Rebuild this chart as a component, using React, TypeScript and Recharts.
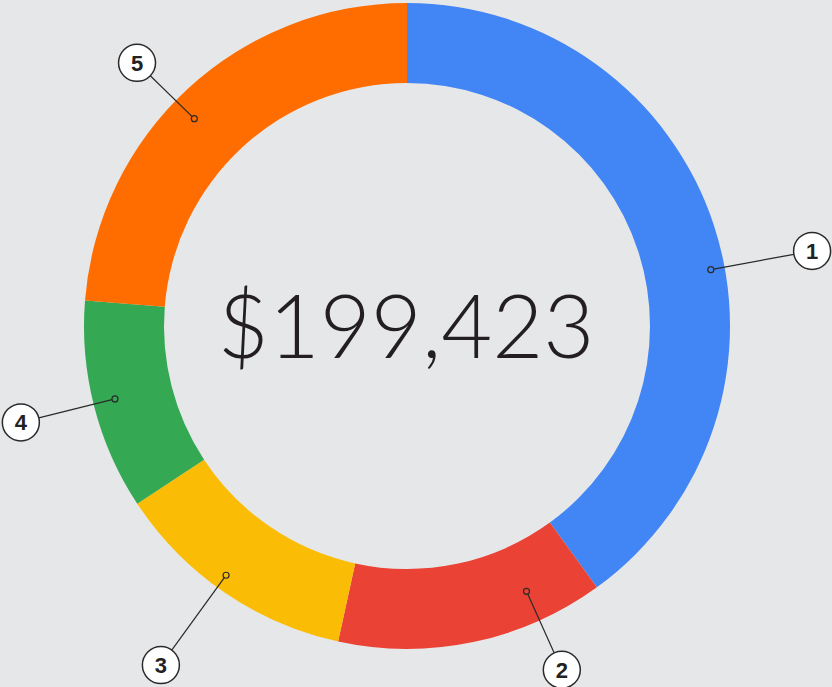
import { Cell, Pie, PieChart } from 'recharts'

const labels = ['1', '2', '3', '4', '5']
const values = [79769, 26763, 24549, 20999, 47343]
const totalText = '$199,423'

const COLORS = ['#4285F4', '#EA4335', '#FBBC05', '#34A853', '#FF6D01']

// per-tag placement tweaks, clockwise degrees off the slice mid-angle + radii
const TAG_SHIFT = [7.5, -12.4, 1.5, 0.4, -3]
const DOT_R = [309, 291, 308, 301, 297]
const TAG_R = [412, 377, 419, 398, 377]
const BADGE_R = 18.5

const data = labels.map((name, i) => ({ name, value: values[i] }))

function renderTag(props: any) {
  const { cx, cy, midAngle, index } = props
  const angle = midAngle - TAG_SHIFT[index]
  const rad = (-angle * Math.PI) / 180
  const ux = Math.cos(rad)
  const uy = Math.sin(rad)
  const dx = cx + DOT_R[index] * ux
  const dy = cy + DOT_R[index] * uy
  const tx = cx + TAG_R[index] * ux
  const ty = cy + TAG_R[index] * uy
  return (
    <g key={`tag-${index}`}>
      <line
        x1={dx + 3 * ux}
        y1={dy + 3 * uy}
        x2={tx - BADGE_R * ux}
        y2={ty - BADGE_R * uy}
        stroke="#2a2a2a"
        strokeWidth={1.2}
      />
      <circle cx={dx} cy={dy} r={3} fill="none" stroke="#2a2a2a" strokeWidth={1.2} />
      <circle cx={tx} cy={ty} r={BADGE_R} fill="#ffffff" stroke="#2a2a2a" strokeWidth={1.5} />
      <text
        x={tx}
        y={ty + 8}
        textAnchor="middle"
        fontFamily="'Liberation Sans', Arial, sans-serif"
        fontWeight={700}
        fontSize={22}
        fill="#222"
      >
        {labels[index]}
      </text>
    </g>
  )
}

export default function App() {
  return (
    <div
      style={{
        position: 'absolute',
        left: 0,
        top: 0,
        width: 832,
        height: 687,
        background: '#e6e7e9',
        overflow: 'hidden',
      }}
    >
      <PieChart width={832} height={687} margin={{ top: 0, right: 0, bottom: 0, left: 0 }}>
        <Pie
          data={data}
          dataKey="value"
          cx={407}
          cy={326}
          innerRadius={243}
          outerRadius={323}
          startAngle={90}
          endAngle={-270}
          stroke="none"
          label={renderTag}
          labelLine={false}
          isAnimationActive={false}
        >
          {data.map((_entry, index) => (
            <Cell key={`cell-${index}`} fill={COLORS[index % COLORS.length]} />
          ))}
        </Pie>
        <text
          x={406}
          y={358}
          textAnchor="middle"
          fontFamily="Lato, 'Open Sans', sans-serif"
          fontWeight={300}
          fontSize={88}
          fill="#231f20"
        >
          {totalText}
        </text>
      </PieChart>
    </div>
  )
}
